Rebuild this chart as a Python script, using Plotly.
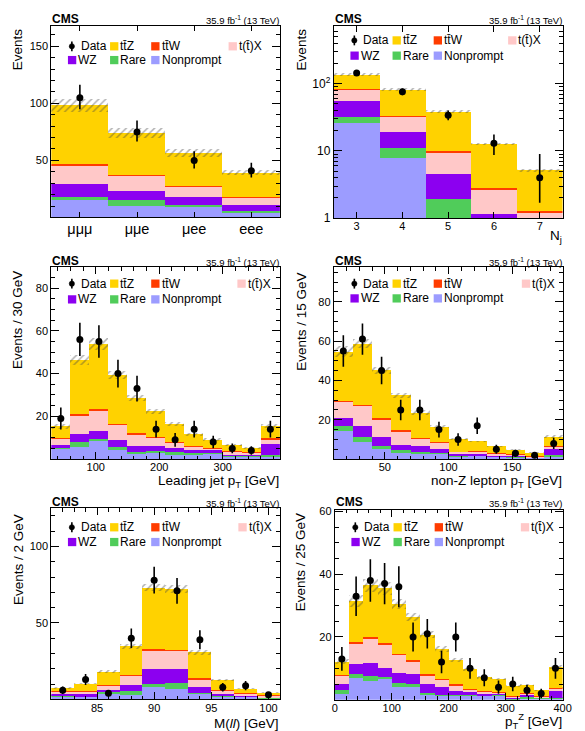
import numpy as np
import plotly.graph_objects as go

W, H = 585, 731
FONT = "Liberation Sans, Arial, Helvetica, sans-serif"

COL_TTZ = "#FFD200"
COL_TTW = "#FF3C00"
COL_TX = "#FFC8C8"
COL_WZ = "#8C00F0"
COL_RARE = "#50CC5A"
COL_NP = "#9C9CFF"

LBL_TTZ = "tt\u0304Z"
LBL_TTW = "tt\u0304W"
LBL_TX = "t(t\u0304)X"

# ---------------- Panel 1: lepton flavour channels ----------------
ch_labels = ["μμμ", "μμe", "μee", "eee"]
ch_edges = [-0.5, 0.5, 1.5, 2.5, 3.5]
ch_data = [105, 75, 50, 41]
ch_up = [11.4, 10.0, 8.0, 7.0]
ch_dn = [10.2, 8.5, 7.0, 6.0]
ch_np = [15.0, 10.0, 8.9, 3.7]
ch_rare = [2.5, 5.0, 2.0, 1.5]
ch_wz = [11.5, 8.3, 6.3, 5.4]
ch_tx = [16.5, 13.0, 9.6, 6.7]
ch_ttw = [1.0, 0.9, 0.8, 0.7]
ch_ttz = [51.5, 36.3, 28.7, 21.0]
ch_unc = [5.7, 4.3, 3.3, 2.3]

# ---------------- Panel 2: jet multiplicity ----------------
nj_edges = [2.5, 3.5, 4.5, 5.5, 6.5, 7.5]
nj_data = [145, 76, 34, 13, 4]
nj_up = [12.5, 9.2, 5.8, 4.5, 5.0]
nj_dn = [12.0, 8.7, 5.3, 4.3, 2.3]
nj_np = [25.4, 7.8, 0.5, 0.3, 0.15]
nj_rare = [6.6, 3.0, 1.37, 0.3, 0.25]
nj_wz = [22.0, 8.2, 2.59, 0.52, 0.4]
nj_tx = [27.0, 13.0, 5.04, 1.48, 0.38]
nj_ttw = [1.5, 1.2, 0.4, 0.15, 0.07]
nj_ttz = [52.5, 47.8, 27.8, 9.75, 3.85]
nj_unc = [7.5, 3.0, 1.8, 0.55, 0.25]

# ---------------- Panel 3: leading jet pT ----------------
jet_edges = [30, 60, 90, 120, 150, 180, 210, 240, 270, 300, 330, 360, 390]
jet_data = [19, 56, 55, 40, 33, 14, 9, 14, 8, 5, 4, 14]
jet_err = [5.1, 7.8, 7.6, 6.5, 6.0, 3.9, 3.2, 3.9, 2.9, 2.3, 2.0, 3.9]
jet_np = [4.6, 5.4, 8.5, 4.2, 2.5, 2.8, 1.7, 2.0, 2.3, 1.2, 1.2, 1.2]
jet_rare = [0.5, 2.3, 0.7, 1.2, 0.6, 0.7, 1.5, 0.8, 0.5, 0.3, 0.3, 0.8]
jet_wz = [1.5, 4.0, 3.9, 3.6, 3.1, 2.3, 1.9, 1.2, 1.2, 0.5, 0.5, 4.9]
jet_tx = [2.8, 8.6, 9.6, 6.9, 5.3, 4.0, 2.5, 1.7, 1.0, 1.5, 1.1, 2.3]
jet_ttw = [0.3, 0.5, 0.5, 0.6, 0.4, 0.3, 0.3, 0.3, 0.2, 0.2, 0.2, 0.4]
jet_ttz = [5.5, 25.4, 30.5, 22.7, 16.5, 12.2, 8.3, 5.5, 3.8, 2.7, 1.9, 5.7]
jet_unc = [1.2, 2.3, 2.6, 2.0, 1.5, 1.2, 0.9, 0.7, 0.6, 0.5, 0.4, 1.0]

# ---------------- Panel 4: non-Z lepton pT ----------------
lep_edges = [10, 25, 40, 55, 70, 85, 100, 115, 130, 145, 160, 175, 190]
lep_data = [55, 61, 45, 25, 25, 15, 10, 17, 5, 3, 2, 8]
lep_err = [8.0, 8.0, 7.0, 5.2, 5.2, 4.0, 3.2, 4.2, 2.3, 1.8, 1.5, 2.9]
lep_np = [14.3, 8.5, 5.2, 3.2, 2.7, 2.7, 1.3, 1.5, 1.2, 0.8, 0.5, 1.3]
lep_rare = [2.5, 2.5, 1.1, 1.1, 0.8, 0.5, 0.2, 0.3, 0.1, 0.2, 0.2, 0.5]
lep_wz = [3.7, 5.8, 5.0, 2.5, 2.8, 2.0, 0.7, 0.9, 0.5, 0.5, 0.1, 3.0]
lep_tx = [8.5, 10.2, 8.9, 7.2, 4.0, 3.1, 1.3, 1.0, 0.8, 0.6, 0.5, 1.2]
lep_ttw = [0.6, 0.6, 0.5, 0.5, 0.4, 0.3, 0.2, 0.2, 0.2, 0.1, 0.1, 0.4]
lep_ttz = [24.9, 30.9, 24.3, 17.8, 12.8, 7.7, 6.5, 4.9, 3.5, 2.4, 1.7, 4.9]
lep_unc = [3.0, 2.2, 1.8, 1.3, 1.1, 0.8, 0.5, 0.5, 0.4, 0.3, 0.3, 0.7]

# ---------------- Panel 5: M(ll) ----------------
mll_edges = [81, 83, 85, 87, 89, 91, 93, 95, 97, 99, 101]
mll_data = [6, 13, 4, 40, 78, 71, 39, 8, 9, 3]
mll_err = [2.4, 3.6, 2.0, 6.3, 8.8, 8.4, 6.2, 2.8, 3.0, 1.7]
mll_np = [1.7, 1.5, 3.7, 3.0, 8.0, 6.5, 3.9, 1.9, 1.5, 0.65]
mll_rare = [0.5, 0.4, 1.3, 2.0, 2.2, 4.3, 0.4, 0.5, 0.2, 0.25]
mll_wz = [1.0, 1.3, 0.8, 4.3, 9.5, 8.9, 3.7, 0.8, 0.5, 0.4]
mll_tx = [1.6, 1.8, 2.9, 6.1, 12.3, 11.9, 5.0, 2.6, 1.5, 0.9]
mll_ttw = [0.2, 0.2, 0.3, 0.4, 0.7, 0.7, 0.5, 0.2, 0.2, 0.2]
mll_ttz = [2.3, 5.0, 9.0, 18.7, 40.3, 39.5, 17.0, 6.5, 2.9, 1.9]
mll_unc = [0.5, 0.6, 1.0, 1.8, 2.6, 2.6, 1.5, 0.7, 0.5, 0.4]

# ---------------- Panel 6: pT(Z) ----------------
ptz_edges = [0, 25, 50, 75, 100, 125, 150, 175, 200, 225, 250, 275, 300, 325, 350, 375, 400]
ptz_data = [13, 33, 38, 37, 36, 20, 21, 12, 20, 10, 7, 4, 5, 3, 2, 10]
ptz_err = [3.8, 6.3, 6.8, 6.6, 6.5, 4.6, 4.7, 3.6, 4.6, 3.3, 2.7, 2.1, 2.3, 1.8, 1.5, 3.3]
ptz_np = [1.9, 6.9, 6.0, 6.9, 4.0, 4.0, 1.7, 1.5, 1.5, 1.4, 1.25, 1.4, 0.2, 0.4, 0.4, 0.4]
ptz_rare = [1.2, 1.2, 1.6, 0.4, 1.4, 1.2, 0.4, 0.2, 0.2, 0.2, 0.25, 0.2, 0.2, 0.4, 0.2, 0.2]
ptz_wz = [1.9, 3.4, 4.0, 2.9, 3.2, 3.1, 2.9, 2.3, 1.2, 0.8, 0.4, 0.5, 0.2, 0.9, 0.2, 2.2]
ptz_tx = [2.6, 6.6, 7.9, 7.5, 5.8, 4.0, 2.9, 2.4, 1.8, 0.9, 0.9, 0.2, 0.4, 0.3, 0.4, 0.8]
ptz_ttw = [0.2, 0.3, 0.4, 0.3, 0.3, 0.3, 0.3, 0.3, 0.2, 0.2, 0.1, 0.1, 0.1, 0.1, 0.1, 0.2]
ptz_ttz = [4.4, 13.1, 16.6, 17.5, 15.8, 13.9, 12.6, 9.5, 7.7, 6.3, 4.3, 4.3, 3.2, 2.6, 1.7, 6.7]
ptz_unc = [0.8, 1.8, 2.0, 2.0, 1.6, 1.3, 1.0, 0.9, 0.7, 0.5, 0.4, 0.4, 0.3, 0.3, 0.2, 0.6]

# ---------------- panel layout (pixel frame boxes) ----------------
panels = [
    dict(edges=ch_edges, data=ch_data, up=ch_up, dn=ch_dn, np_=ch_np, rare=ch_rare, wz=ch_wz,
         tx=ch_tx, ttw=ch_ttw, ttz=ch_ttz, unc=ch_unc,
         L=49.3, R=282.7, T=21.7, B=216.0, ytitle="Events", xtitle=None,
         ytx=15, yty=22, cmsy=14, rows=(42, 56), txoff=181),
    dict(edges=nj_edges, data=nj_data, up=nj_up, dn=nj_dn, np_=nj_np, rare=nj_rare, wz=nj_wz,
         tx=nj_tx, ttw=nj_ttw, ttz=nj_ttz, unc=nj_unc,
         L=337.7, R=571.3, T=21.7, B=216.7, ytitle="Events", xtitle="N<sub>j</sub>",
         ytx=305, yty=22, cmsy=14, rows=(36, 51.5), txoff=178, xty=235),
    dict(edges=jet_edges, data=jet_data, up=jet_err, dn=jet_err, np_=jet_np, rare=jet_rare, wz=jet_wz,
         tx=jet_tx, ttw=jet_ttw, ttz=jet_ttz, unc=jet_unc,
         L=49.3, R=282.7, T=266.7, B=461.7, ytitle="Events / 30 GeV",
         xtitle="Leading jet p<sub>T</sub> [GeV]",
         ytx=14.7, yty=268, cmsy=260, rows=(283.3, 299.3), txoff=190, xty=484.5),
    dict(edges=lep_edges, data=lep_data, up=lep_err, dn=lep_err, np_=lep_np, rare=lep_rare, wz=lep_wz,
         tx=lep_tx, ttw=lep_ttw, ttz=lep_ttz, unc=lep_unc,
         L=337.7, R=572.0, T=266.7, B=461.7, ytitle="Events / 15 GeV",
         xtitle="non-Z lepton p<sub>T</sub> [GeV]",
         ytx=304.5, yty=270, cmsy=260, rows=(283.3, 298.3), txoff=192, xty=484.5),
    dict(edges=mll_edges, data=mll_data, up=mll_err, dn=mll_err, np_=mll_np, rare=mll_rare, wz=mll_wz,
         tx=mll_tx, ttw=mll_ttw, ttz=mll_ttz, unc=mll_unc,
         L=49.3, R=282.7, T=511.7, B=706.0, ytitle="Events / 2 GeV",
         xtitle="M(<i>ll</i>) [GeV]",
         ytx=15.3, yty=515, cmsy=505, rows=(531, 546), txoff=191, xty=730),
    dict(edges=ptz_edges, data=ptz_data, up=ptz_err, dn=ptz_err, np_=ptz_np, rare=ptz_rare, wz=ptz_wz,
         tx=ptz_tx, ttw=ptz_ttw, ttz=ptz_ttz, unc=ptz_unc,
         L=338.7, R=571.3, T=513.3, B=706.3, ytitle="Events / 25 GeV",
         xtitle="p<sub>T</sub><sup>Z</sup> [GeV]",
         ytx=304, yty=515, cmsy=505, rows=(531, 546), txoff=190, xty=727.5),
]

axis_specs = [
    (dict(range=[-0.5, 3.5], tickvals=[0, 1, 2, 3], ticktext=ch_labels, tickfont=dict(size=14.5), ticklen=5),
     dict(range=[0, 167.5], tickvals=[50, 100, 150], minor=dict(tickmode="linear", tick0=0, dtick=10))),
    (dict(range=[2.5, 7.5], tickvals=[3, 4, 5, 6, 7], ticklen=6),
     dict(type="log", range=[0, 2.854], tickvals=[1, 10, 100], ticktext=["1", "10", "10<sup>2</sup>"],
          tickfont=dict(size=12),
          minor=dict(tickmode="array", tickvals=[2, 3, 4, 5, 6, 7, 8, 9, 20, 30, 40, 50, 60, 70, 80, 90,
                                                 200, 300, 400, 500, 600, 700]))),
    (dict(range=[30, 390], tickvals=[100, 200, 300], ticklen=7, minor=dict(tickmode="linear", tick0=0, dtick=20)),
     dict(range=[0, 89.7], tickvals=[20, 40, 60, 80], minor=dict(tickmode="linear", tick0=0, dtick=5))),
    (dict(range=[10, 190], tickvals=[50, 100, 150], ticklen=7, minor=dict(tickmode="linear", tick0=0, dtick=10)),
     dict(range=[0, 97.5], tickvals=[20, 40, 60, 80], minor=dict(tickmode="linear", tick0=0, dtick=5))),
    (dict(range=[81, 101], tickvals=[85, 90, 95, 100], ticklen=7, minor=dict(tickmode="linear", tick0=0, dtick=1)),
     dict(range=[0, 125], tickvals=[50, 100], minor=dict(tickmode="linear", tick0=0, dtick=10))),
    (dict(range=[0, 400], tickvals=[0, 100, 200, 300, 400], ticklen=7, minor=dict(tickmode="linear", tick0=0, dtick=20)),
     dict(range=[0, 60.5], tickvals=[20, 40, 60], minor=dict(tickmode="linear", tick0=0, dtick=5))),
]


def PX(x):
    return x / W


def PY(y):
    return 1 - y / H


fig = go.Figure()
shapes = []
annotations = []

for i, p in enumerate(panels, start=1):
    xa = "x" if i == 1 else f"x{i}"
    ya = "y" if i == 1 else f"y{i}"
    edges = np.array(p["edges"], float)
    centers = (edges[:-1] + edges[1:]) / 2
    widths = np.diff(edges)
    floor = 0.01 if i == 2 else 0.0
    base = np.full(len(centers), floor)
    comps = [(p["np_"], COL_NP, "Nonprompt"), (p["rare"], COL_RARE, "Rare"), (p["wz"], COL_WZ, "WZ"),
             (p["tx"], COL_TX, LBL_TX), (p["ttw"], COL_TTW, LBL_TTW), (p["ttz"], COL_TTZ, LBL_TTZ)]
    for vals, col, name in comps:
        v = np.array(vals, float)
        fig.add_trace(go.Bar(x=centers, y=v, base=base, width=widths, name=name, showlegend=False,
                             marker=dict(color=col, line=dict(width=0)), xaxis=xa, yaxis=ya,
                             hoverinfo="skip"))
        base = base + v
    unc = np.array(p["unc"], float)
    fig.add_trace(go.Bar(x=centers, y=2 * unc, base=base - unc, width=widths, showlegend=False,
                         marker=dict(color="rgba(0,0,0,0)", line=dict(width=0),
                                     pattern=dict(shape="/", fgcolor="rgba(70,70,70,0.85)",
                                                  size=5, solidity=0.3)),
                         xaxis=xa, yaxis=ya, hoverinfo="skip"))
    fig.add_trace(go.Scatter(x=centers, y=p["data"], mode="markers", showlegend=False, name="Data",
                             marker=dict(color="black", size=7),
                             error_y=dict(type="data", array=p["up"], arrayminus=p["dn"], symmetric=False,
                                          color="black", thickness=1.6, width=0),
                             xaxis=xa, yaxis=ya))

    xs, ys = axis_specs[i - 1]
    common = dict(showline=True, linecolor="black", linewidth=1, mirror="allticks", ticks="inside",
                  tickcolor="black", tickwidth=1, showgrid=False, zeroline=False,
                  tickfont=dict(family=FONT, size=11, color="black"))
    xdict = dict(common)
    xdict.update(domain=[PX(p["L"]), PX(p["R"])], anchor=ya, tickmode="array", ticklabelstandoff=-2)
    tf = xs.pop("tickfont", None)
    mn = xs.pop("minor", None)
    xdict.update(xs)
    if tf:
        xdict["tickfont"] = dict(family=FONT, color="black", **tf)
    if mn:
        xdict["minor"] = dict(ticks="inside", ticklen=3.5, tickcolor="black", tickwidth=1, showgrid=False, **mn)
    ydict = dict(common)
    ydict.update(domain=[PY(p["B"]), PY(p["T"])], anchor=xa, tickmode="array", ticklen=8)
    tf = ys.pop("tickfont", None)
    mn = ys.pop("minor", None)
    ydict.update(ys)
    if tf:
        ydict["tickfont"] = dict(family=FONT, color="black", **tf)
    if mn:
        ydict["minor"] = dict(ticks="inside", ticklen=4, tickcolor="black", tickwidth=1, showgrid=False, **mn)
    key = "" if i == 1 else str(i)
    fig.update_layout(**{f"xaxis{key}": xdict, f"yaxis{key}": ydict})

    # CMS label + luminosity
    annotations.append(dict(x=PX(p["L"] - 1), y=PY(p["cmsy"]), xref="paper", yref="paper", text="<b>CMS</b>",
                            showarrow=False, xanchor="left", yanchor="middle",
                            font=dict(family=FONT, size=12, color="black")))
    annotations.append(dict(x=PX(p["R"] + 1), y=PY(p["cmsy"] + 1.5), xref="paper", yref="paper",
                            text="35.9 fb<sup>-1</sup> (13 TeV)", showarrow=False,
                            xanchor="right", yanchor="middle",
                            font=dict(family=FONT, size=9.5, color="black")))
    # axis titles
    annotations.append(dict(x=PX(p["ytx"]), y=PY(p["yty"]), xref="paper", yref="paper", text=p["ytitle"],
                            textangle=-90, showarrow=False, xanchor="center", yanchor="top",
                            font=dict(family=FONT, size=13.5, color="black")))
    if p["xtitle"]:
        annotations.append(dict(x=PX(p["R"] + 1), y=PY(p["xty"]), xref="paper", yref="paper", text=p["xtitle"],
                                showarrow=False, xanchor="right", yanchor="middle",
                                font=dict(family=FONT, size=13.5, color="black")))

    # legend (drawn by hand)
    L = p["L"]
    r1, r2 = p["rows"]
    s = 4.2
    shapes.append(dict(type="line", xref="paper", yref="paper", x0=PX(L + 21), x1=PX(L + 21),
                       y0=PY(r1 - 5), y1=PY(r1 + 5), line=dict(color="black", width=1.6)))
    shapes.append(dict(type="circle", xref="paper", yref="paper", x0=PX(L + 18.3), x1=PX(L + 23.7),
                       y0=PY(r1 - 2.7), y1=PY(r1 + 2.7), fillcolor="black", line=dict(color="black", width=0.5)))
    items = [
        (L + 60, r1, COL_TTZ, LBL_TTZ),
        (L + 102, r1, COL_TTW, LBL_TTW),
        (L + p["txoff"], r1, COL_TX, LBL_TX),
        (L + 17, r2, COL_WZ, "WZ"),
        (L + 60, r2, COL_RARE, "Rare"),
        (L + 102, r2, COL_NP, "Nonprompt"),
    ]
    for x0, yc, col, txt in items:
        shapes.append(dict(type="rect", xref="paper", yref="paper", x0=PX(x0), x1=PX(x0 + 8.5),
                           y0=PY(yc + s), y1=PY(yc - s), fillcolor=col, line=dict(width=0)))
        annotations.append(dict(x=PX(x0 + 8.5), y=PY(yc), xref="paper", yref="paper", text=txt,
                                showarrow=False, xanchor="left", yanchor="middle",
                                font=dict(family=FONT, size=12, color="black")))
    annotations.append(dict(x=PX(L + 28), y=PY(r1), xref="paper", yref="paper", text="Data",
                            showarrow=False, xanchor="left", yanchor="middle",
                            font=dict(family=FONT, size=12, color="black")))

fig.update_layout(
    width=W, height=H, autosize=False,
    margin=dict(l=0, r=0, t=0, b=0),
    paper_bgcolor="white", plot_bgcolor="white",
    barmode="overlay", bargap=0,
    showlegend=False,
    font=dict(family=FONT, color="black"),
    shapes=shapes, annotations=annotations,
)

fig.write_html("out.html")
